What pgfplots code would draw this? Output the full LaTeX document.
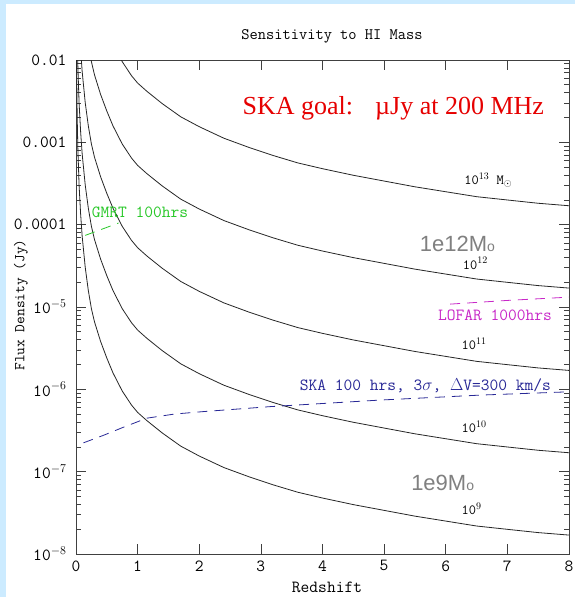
\documentclass[border=0pt]{standalone}
\usepackage{fontspec}
\usepackage{pgfplots}
\pgfplotsset{compat=1.18}
\usepackage{pgfplotstable}
\newfontfamily\tnr{Liberation Serif}
\newfontfamily\ari{Liberation Sans}
\definecolor{bgblue}{RGB}{204,235,255}
\definecolor{skablue}{RGB}{40,40,150}
\definecolor{lofarmag}{RGB}{200,40,200}
\definecolor{gmrtgreen}{RGB}{40,200,40}
\definecolor{goalred}{RGB}{230,0,0}
\definecolor{graylab}{RGB}{128,128,128}

\pgfplotstableread{
z     m9        m10       m11       m12       m13
0.005 3.162e-2  3.162e-1  3.162     31.62     316.2
0.01  7.762e-3  7.762e-2  7.762e-1  7.762     77.62
0.02  1.905e-3  1.905e-2  1.905e-1  1.905     19.05
0.03  8.511e-4  8.511e-3  8.511e-2  8.511e-1  8.511
0.05  3.020e-4  3.020e-3  3.020e-2  3.020e-1  3.020
0.075 1.349e-4  1.349e-3  1.349e-2  1.349e-1  1.349
0.1   7.244e-5  7.244e-4  7.244e-3  7.244e-2  7.244e-1
0.15  3.020e-5  3.020e-4  3.020e-3  3.020e-2  3.020e-1
0.2   1.585e-5  1.585e-4  1.585e-3  1.585e-2  1.585e-1
0.25  9.550e-6  9.550e-5  9.550e-4  9.550e-3  9.550e-2
0.3   6.607e-6  6.607e-5  6.607e-4  6.607e-3  6.607e-2
0.4   3.802e-6  3.802e-5  3.802e-4  3.802e-3  3.802e-2
0.5   2.399e-6  2.399e-5  2.399e-4  2.399e-3  2.399e-2
0.6   1.585e-6  1.585e-5  1.585e-4  1.585e-3  1.585e-2
0.75  9.550e-7  9.550e-6  9.550e-5  9.550e-4  9.550e-3
0.9   6.457e-7  6.457e-6  6.457e-5  6.457e-4  6.457e-3
1.0   5.248e-7  5.248e-6  5.248e-5  5.248e-4  5.248e-3
1.15  4.169e-7  4.169e-6  4.169e-5  4.169e-4  4.169e-3
1.4   2.951e-7  2.951e-6  2.951e-5  2.951e-4  2.951e-3
1.7   2.042e-7  2.042e-6  2.042e-5  2.042e-4  2.042e-3
2.0   1.549e-7  1.549e-6  1.549e-5  1.549e-4  1.549e-3
2.4   1.122e-7  1.122e-6  1.122e-5  1.122e-4  1.122e-3
2.8   8.710e-8  8.710e-7  8.710e-6  8.710e-5  8.710e-4
3.2   6.918e-8  6.918e-7  6.918e-6  6.918e-5  6.918e-4
3.6   5.623e-8  5.623e-7  5.623e-6  5.623e-5  5.623e-4
4.0   4.786e-8  4.786e-7  4.786e-6  4.786e-5  4.786e-4
4.5   3.981e-8  3.981e-7  3.981e-6  3.981e-5  3.981e-4
5.0   3.388e-8  3.388e-7  3.388e-6  3.388e-5  3.388e-4
5.5   2.884e-8  2.884e-7  2.884e-6  2.884e-5  2.884e-4
6.0   2.512e-8  2.512e-7  2.512e-6  2.512e-5  2.512e-4
6.5   2.188e-8  2.188e-7  2.188e-6  2.188e-5  2.188e-4
7.0   1.995e-8  1.995e-7  1.995e-6  1.995e-5  1.995e-4
7.5   1.820e-8  1.820e-7  1.820e-6  1.820e-5  1.820e-4
8.0   1.698e-8  1.698e-7  1.698e-6  1.698e-5  1.698e-4
}\curves

\pgfplotstableread{
z     s
0.12  2.239e-7
0.44  2.754e-7
0.77  3.467e-7
1.15  4.467e-7
1.6   5.012e-7
2.07  5.370e-7
3.15  6.166e-7
4.94  7.413e-7
6.56  8.511e-7
8.0   9.333e-7
}\ska

\pgfplotstableread{
z     s
6.07  1.084e-5
7.0   1.202e-5
8.0   1.318e-5
}\lofar

\pgfplotstableread{
z     s
0.15  7.413e-5
0.69  1.047e-4
}\gmrt

\begin{document}
\begin{tikzpicture}[x=1pt,y=1pt]
\fill[bgblue] (0,0) rectangle (575,597);
\useasboundingbox (0,0) rectangle (575,597);
\fill[white] (6,0) rectangle (575,593);

\node[font=\fontsize{16}{16}\selectfont\ttfamily] at (332,561) {Sensitivity to HI Mass};
\node[font=\fontsize{17}{17}\selectfont\ttfamily] at (327,10) {Redshift};
\node[rotate=90,font=\fontsize{15}{15}\selectfont\ttfamily] at (21,292) {Flux Density (Jy)};

\begin{axis}[
  at={(76pt,43pt)}, anchor=south west, scale only axis,
  width=493pt, height=494pt,
  xmin=0, xmax=8, ymin=1e-8, ymax=1e-2, ymode=log,
  axis line style={black!75, line width=0.9pt},
  xtick={0,1,2,3,4,5,6,7,8},
  xticklabels={0,1,2,3,4,5,6,7,8},
  ytick={1e-8,1e-7,1e-6,1e-5,1e-4,1e-3,1e-2},
  yticklabels={10$^{-8}$,10$^{-7}$,10$^{-6}$,10$^{-5}$,0.0001,0.001,0.01},
  ticklabel style={font=\fontsize{17}{17}\selectfont\ttfamily},
  xticklabel style={yshift=-3pt},
  yticklabel style={xshift=-6pt},
  major tick length=10pt, minor tick length=5pt,
  tick style={black!75, line width=0.7pt},
  every axis plot/.append style={line width=0.8pt},
]
\addplot[black!85, no marks] table[x=z,y=m9] {\curves};
\addplot[black!85, no marks] table[x=z,y=m10] {\curves};
\addplot[black!85, no marks] table[x=z,y=m11] {\curves};
\addplot[black!85, no marks] table[x=z,y=m12] {\curves};
\addplot[black!85, no marks] table[x=z,y=m13] {\curves};
\addplot[skablue, no marks, dash pattern=on 10pt off 7pt] table[x=z,y=s] {\ska};
\addplot[lofarmag, no marks, dash pattern=on 10pt off 7pt] table[x=z,y=s] {\lofar};
\addplot[gmrtgreen, no marks, dash pattern=on 10pt off 7pt] table[x=z,y=s] {\gmrt};

\node[inner sep=0pt,font=\fontsize{14}{14}\selectfont\ttfamily] at (axis cs:6.69,3.48e-4) {10$^{13}$ M$_\odot$};
\node[inner sep=0pt,font=\fontsize{14}{14}\selectfont\ttfamily] at (axis cs:6.48,3.4e-5) {10$^{12}$};
\node[inner sep=0pt,font=\fontsize{14}{14}\selectfont\ttfamily] at (axis cs:6.46,3.6e-6) {10$^{11}$};
\node[inner sep=0pt,font=\fontsize{14}{14}\selectfont\ttfamily] at (axis cs:6.46,3.5e-7) {10$^{10}$};
\node[inner sep=0pt,font=\fontsize{14}{14}\selectfont\ttfamily] at (axis cs:6.42,3.5e-8) {10$^{9}$};
\node[inner sep=0pt,font=\fontsize{22}{22}\selectfont\ari, text=graylab] at (axis cs:6.19,5.8e-5) {1e12M{\fontsize{14}{14}\selectfont o}};
\node[inner sep=0pt,font=\fontsize{22}{22}\selectfont\ari, text=graylab] at (axis cs:5.95,7.4e-8) {1e9M{\fontsize{14}{14}\selectfont o}};
\node[inner sep=0pt,font=\fontsize{17}{17}\selectfont\ttfamily, text=skablue] at (axis cs:5.67,1.1e-6) {SKA 100 hrs, 3$\sigma$, $\Delta$V=300 km/s};
\node[inner sep=0pt,font=\fontsize{17}{17}\selectfont\ttfamily, text=lofarmag] at (axis cs:6.80,7.9e-6) {LOFAR 1000hrs};
\node[inner sep=0pt,font=\fontsize{17}{17}\selectfont\ttfamily, text=gmrtgreen] at (axis cs:1.04,1.4e-4) {GMRT 100hrs};
\node[inner sep=0pt,font=\fontsize{26}{26}\selectfont\tnr, text=goalred] at (axis cs:5.15,2.6e-3) {SKA goal:\hspace{22pt}µJy at 200 MHz};
\end{axis}
\end{tikzpicture}
\end{document}
